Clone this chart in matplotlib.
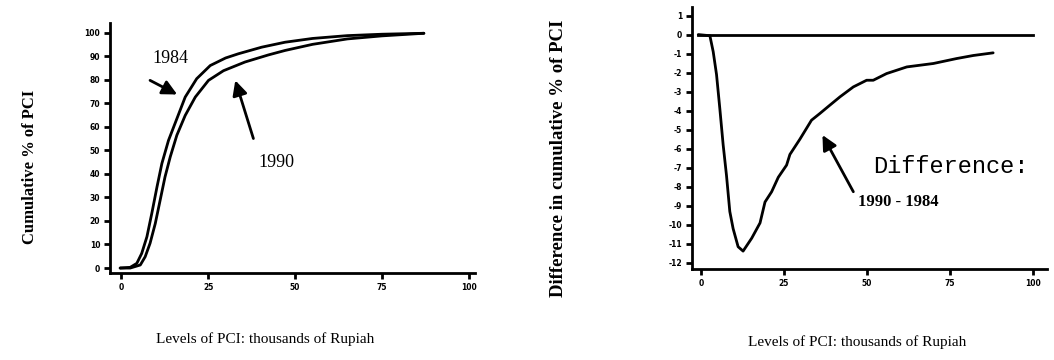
import matplotlib.pyplot as plt

plt.rcParams['axes.unicode_minus'] = False

# cumulative % of PCI by level (thousands of Rupiah)
pci_1984 = [-0.3, 2.6, 4.5, 5.9, 7.4, 8.8, 10.3, 11.7, 13.6, 16.0, 18.4, 21.7, 25.6, 30, 33.7,
            40.4, 47.1, 55, 65, 75, 87]
cum_1984 = [0, 0.3, 2, 6.2, 13.3, 23.2, 34.5, 44.4, 54.2, 63.4, 72.6, 80.4, 86, 89.2, 91,
            93.8, 95.9, 97.5, 98.7, 99.3, 99.7]

pci_1990 = [-0.3, 2.6, 5.5, 6.9, 8.3, 9.8, 11.2, 12.6, 14.1, 16.0, 18.4, 21.3, 25.1, 29.4, 35.6,
            42.3, 47.1, 55, 65, 75, 87]
cum_1990 = [0, 0, 1.3, 4.8, 10.5, 18.9, 28.8, 38.7, 47.2, 56.4, 64.8, 72.6, 79.7, 83.8, 87.5,
            90.5, 92.4, 95, 97.3, 98.6, 99.7]

# difference 1990 - 1984
pci_diff = [-0.8, 2.7, 3.7, 4.7, 5.7, 6.7, 7.7, 8.7, 9.7, 11.2, 12.7, 15.3, 17.8, 19.3, 21.3,
            23.3, 25.8, 26.8, 29.8, 33.3, 35.8, 38.9, 41.9, 45.9, 49.9, 51.9, 55.9, 62, 70, 77, 82, 88]
diff = [0, -0.06, -0.9, -2.1, -3.9, -5.8, -7.4, -9.3, -10.2, -11.15, -11.38, -10.7, -9.9, -8.8, -8.26,
        -7.5, -6.86, -6.3, -5.5, -4.5, -4.15, -3.7, -3.27, -2.75, -2.4, -2.4, -2.05, -1.7, -1.52, -1.26, -1.1, -0.96]

x_ticks = [0, 25, 50, 75, 100]
cum_ticks = list(range(0, 101, 10))
diff_ticks = list(range(-12, 2))

serif = 'Liberation Serif'
xlab = 'Levels of PCI: thousands of Rupiah'

fig = plt.figure(figsize=(10.54, 3.6), dpi=100)
ax1 = fig.add_axes([0.1044, 0.2417, 0.3463, 0.694])
ax2 = fig.add_axes([0.6565, 0.2528, 0.3368, 0.7278])

for ax in (ax1, ax2):
    ax.spines['top'].set_visible(False)
    ax.spines['right'].set_visible(False)
    ax.spines['left'].set_linewidth(2)
    ax.spines['bottom'].set_linewidth(2)
    ax.tick_params(direction='out', length=4, width=2, pad=3, labelsize=5.5)
    ax.set_xticks(x_ticks)

# left: cumulative distributions
ax1.plot(pci_1984, cum_1984, color='black', lw=2, solid_capstyle='round')
ax1.plot(pci_1990, cum_1990, color='black', lw=2, solid_capstyle='round')
ax1.set_xlim(-3.2, 101.7)
ax1.set_ylim(-2.1, 104)
ax1.set_yticks(cum_ticks)

arrow = dict(arrowstyle='-|>', color='black', lw=2, mutation_scale=22, shrinkA=0, shrinkB=0)
ax1.text(14.1, 88.9, '1984', family=serif, fontsize=13, ha='center', va='center')
ax1.annotate('', xy=(16.1, 73.7), xytext=(8.3, 79.7), arrowprops=arrow)
ax1.text(44.7, 45, '1990', family=serif, fontsize=13, ha='center', va='center')
ax1.annotate('', xy=(32.8, 79.7), xytext=(38, 55), arrowprops=arrow)

ax1.set_ylabel('Cumulative % of PCI', family=serif, fontsize=12, fontweight='bold')
ax1.yaxis.set_label_coords(-0.197, 0.424)
ax1.set_xlabel(xlab, family=serif, fontsize=11)
ax1.xaxis.set_label_coords(0.425, -0.236)

# right: difference between years
ax2.plot([-0.8, 100], [0, 0], color='black', lw=2)
ax2.plot(pci_diff, diff, color='black', lw=2, solid_capstyle='round', solid_joinstyle='round')
ax2.set_xlim(-2.7, 104.2)
ax2.set_ylim(-12.32, 1.45)
ax2.set_yticks(diff_ticks)

ax2.annotate('', xy=(36.6, -5.28), xytext=(45.9, -8.26), arrowprops=arrow)
ax2.text(51.9, -6.95, 'Difference:', family='Liberation Mono', fontsize=17, ha='left', va='center')
ax2.text(47.4, -8.79, '1990 - 1984', family=serif, fontsize=12, fontweight='bold', ha='left', va='center')

ax2.set_ylabel('Difference in cumulative % of PCI', family=serif, fontsize=13.5, fontweight='bold')
ax2.yaxis.set_label_coords(-0.352, 0.424)
ax2.set_xlabel(xlab, family=serif, fontsize=11)
ax2.xaxis.set_label_coords(0.465, -0.252)

for ax in (ax1, ax2):
    for lbl in ax.get_xticklabels() + ax.get_yticklabels():
        lbl.set_fontweight('bold')

fig.savefig('out.png', dpi=100)
